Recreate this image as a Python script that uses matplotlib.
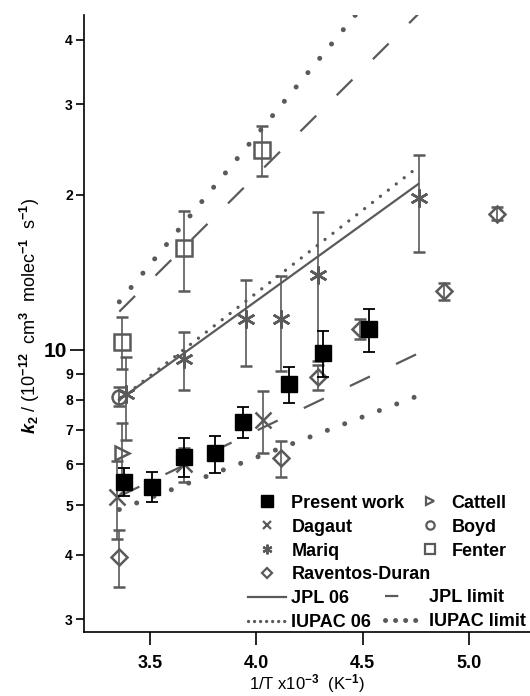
import matplotlib
matplotlib.use('Agg')
import matplotlib.pyplot as plt
from matplotlib.lines import Line2D
from matplotlib.ticker import FixedLocator, FuncFormatter, NullLocator

plt.rcParams['font.family'] = ['Liberation Sans', 'DejaVu Sans']
plt.rcParams['font.weight'] = 'bold'
plt.rcParams['mathtext.fontset'] = 'custom'
plt.rcParams['mathtext.rm'] = 'Liberation Sans:bold'
plt.rcParams['mathtext.bf'] = 'Liberation Sans:bold'
plt.rcParams['mathtext.it'] = 'Liberation Sans:italic:bold'

grey = '#5a5a5a'

# data: x = 1000/T, k2 in 1e-12 cm3 molec-1 s-1
pw_x = [3.378, 3.511, 3.661, 3.806, 3.939, 4.153, 4.313, 4.530]
pw_y = [5.55, 5.43, 6.21, 6.30, 7.24, 8.58, 9.88, 10.98]
pw_e = [0.35, 0.36, 0.55, 0.52, 0.50, 0.70, 1.00, 1.05]

dag_x = [3.345, 3.661, 4.033]
dag_y = [5.19, 6.00, 7.31]
dag_e = [0.90, 0.45, 1.00]

mar_x = [3.387, 3.661, 3.952, 4.116, 4.291, 4.765]
mar_y = [8.20, 9.60, 11.5, 11.5, 14.0, 19.7]
mar_e = [1.50, 1.25, 2.20, 2.40, 4.50, 4.20]

rav_x = [3.356, 4.116, 4.291, 4.487, 4.882, 5.130]
rav_y = [3.97, 6.17, 8.85, 10.98, 13.0, 18.4]
rav_e = [0.50, 0.50, 0.50, 0.50, 0.50, 0.55]

cat_x = [3.367]
cat_y = [6.30]
cat_e = [0.90]

boyd_x = [3.356]
boyd_y = [8.12]
boyd_e = [0.35]

fen_x = [3.367, 3.661, 4.025]
fen_y = [10.38, 15.8, 24.5]
fen_e = [1.20, 2.80, 2.70]

# recommendation lines (end points)
jpl_x = [3.356, 4.762]
jpl_y = [8.0, 21.0]
jpl_hi_y = [11.87, 44.9]
jpl_lo_y = [5.2, 9.85]
iupac_x = [3.356, 4.745]
iupac_y = [8.0, 22.4]
iupac_hi_y = [12.4, 61.7]
iupac_lo_y = [4.9, 8.1]

fig = plt.figure(figsize=(5.3, 6.96), dpi=100)
ax = fig.add_axes([84/530, 1-631.7/696, 446/530, 616.7/696])

ax.plot(jpl_x, jpl_y, color=grey, lw=1.6)
ax.plot(iupac_x, iupac_y, color=grey, lw=2.4, ls=(0, (0.01, 3.0)), dash_capstyle='round')
ax.plot(jpl_x, jpl_hi_y, color=grey, lw=1.6, ls=(0, (10, 13)))
ax.plot(jpl_x, jpl_lo_y, color=grey, lw=1.6, ls=(0, (10, 13)))
ax.plot(iupac_x, iupac_hi_y, color=grey, lw=3.6, ls=(0, (0.01, 3.7)), dash_capstyle='round')
ax.plot(iupac_x, iupac_lo_y, color=grey, lw=3.6, ls=(0, (0.01, 3.7)), dash_capstyle='round')

eb = dict(ls='none', ecolor=grey, elinewidth=1.2, capsize=4, capthick=1.2, mec=grey)
ax.errorbar(fen_x, fen_y, yerr=fen_e, marker='s', ms=11, mfc='none', mew=1.8, **eb)
ax.errorbar(boyd_x, boyd_y, yerr=boyd_e, marker='o', ms=10, mfc='none', mew=1.8, **eb)
ax.errorbar(cat_x, cat_y, yerr=cat_e, marker='>', ms=10, mfc='none', mew=1.8, **eb)
ax.errorbar(rav_x, rav_y, yerr=rav_e, marker='D', ms=8, mfc='none', mew=1.8, **eb)
ax.errorbar(mar_x, mar_y, yerr=mar_e, marker=(6, 2, 0), ms=13, mew=1.8, **eb)
ax.errorbar(dag_x, dag_y, yerr=dag_e, marker='x', ms=11, mew=1.8, **eb)
ax.errorbar(pw_x, pw_y, yerr=pw_e, marker='s', ms=11, mfc='k', mec='k', ls='none',
            ecolor='k', elinewidth=1.3, capsize=4, capthick=1.3, zorder=5)

ax.set_yscale('log')
ax.set_xlim(3.19, 5.287)
ax.set_ylim(2.838, 44.7)

ax.spines['top'].set_visible(False)
ax.spines['right'].set_visible(False)
for s in ['left', 'bottom']:
    ax.spines[s].set_linewidth(1.2)

ax.xaxis.set_major_locator(FixedLocator([3.5, 4.0, 4.5, 5.0]))
ax.xaxis.set_minor_locator(NullLocator())
ax.xaxis.set_major_formatter(FuncFormatter(lambda v, p: '%.1f' % v))
ax.tick_params(axis='x', length=9.5, width=1.2, labelsize=13, pad=7)

ax.yaxis.set_major_locator(FixedLocator([10]))
ax.yaxis.set_minor_locator(FixedLocator([3, 4, 5, 6, 7, 8, 9, 20, 30, 40]))
ax.yaxis.set_major_formatter(FuncFormatter(lambda v, p: '10'))
ax.yaxis.set_minor_formatter(FuncFormatter(lambda v, p: '%d' % (v if v < 10 else v / 10)))
ax.tick_params(axis='y', which='major', length=10, width=1.2, labelsize=15, pad=2)
ax.tick_params(axis='y', which='minor', length=6, width=1.2, labelsize=10, pad=2)

ax.set_xlabel('1/T x10$^{-3}$  (K$^{-1}$)', fontsize=12, labelpad=0)
ax.set_ylabel('$k_2$ / (10$^{-12}$  cm$^{3}$  molec$^{-1}$  s$^{-1}$)', fontsize=13)
ax.yaxis.set_label_coords(-0.094, 0.512)

# legends
h_pw = Line2D([], [], marker='s', color='k', ls='none', ms=8)
h_dag = Line2D([], [], marker='x', color=grey, ls='none', ms=6, mew=1.6)
h_mar = Line2D([], [], marker=(6, 2, 0), color=grey, ls='none', ms=7, mew=1.6)
h_rav = Line2D([], [], marker='D', color=grey, mfc='none', ls='none', ms=5, mew=1.6)
h_jpl = Line2D([], [], color=grey, lw=1.6)
h_iup = Line2D([], [], color=grey, lw=2.4, ls=(0, (0.01, 1.8)), dash_capstyle='round')
h_cat = Line2D([], [], marker='>', color=grey, mfc='none', ls='none', ms=6, mew=1.6)
h_boyd = Line2D([], [], marker='o', color=grey, mfc='none', ls='none', ms=6, mew=1.6)
h_fen = Line2D([], [], marker='s', color=grey, mfc='none', ls='none', ms=7, mew=1.6)
h_jlim = Line2D([], [], color=grey, lw=1.6, ls=(0, (6, 20)))
h_ilim = Line2D([], [], color=grey, lw=3.6, ls=(0, (0.01, 2.0)), dash_capstyle='round')

leg_kw = dict(frameon=False, fontsize=13, borderpad=0, borderaxespad=0,
              labelspacing=0.38, loc='upper left')
leg1 = ax.legend([h_pw, h_dag, h_mar, h_rav, h_jpl, h_iup],
                 ['Present work', 'Dagaut', 'Mariq', 'Raventos-Duran', 'JPL 06', 'IUPAC 06'],
                 bbox_to_anchor=(0.368, 0.222), handlelength=2.1, handletextpad=0.3, **leg_kw)
ax.add_artist(leg1)
leg2 = ax.legend([h_cat, h_boyd, h_fen], ['Cattell', 'Boyd', 'Fenter'],
                 bbox_to_anchor=(0.7556, 0.222), handlelength=1.0, handletextpad=0.7, **leg_kw)
ax.add_artist(leg2)
ax.legend([h_jlim, h_ilim], ['JPL limit', 'IUPAC limit'],
          bbox_to_anchor=(0.675, 0.069), handlelength=2.0, handletextpad=0.45, **leg_kw)

fig.savefig('out.png', dpi=100)
